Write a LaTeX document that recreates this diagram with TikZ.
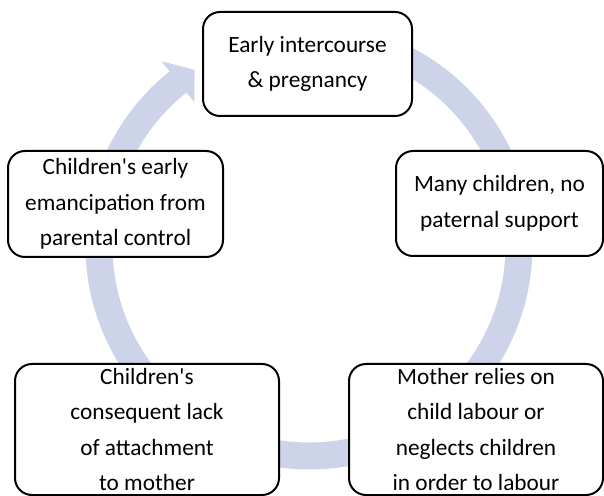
\documentclass[tikz,border=0pt]{standalone}
\definecolor{cycleblue}{RGB}{205, 212, 234}
\usepackage{tikz}
\usepackage{xcolor}
\usepackage{fontspec}
\setmainfont{Carlito}
\usetikzlibrary{positioning, calc}

\tikzset{
    stagebox/.style={draw=black, line width=2pt, fill=white, rounded corners=17pt,
                     align=center, inner sep=0pt, font=\fontsize{23.3}{35.5}\selectfont}
}

\begin{document}
\begin{tikzpicture}[x=1pt, y=1pt]
                    \useasboundingbox (0,0) rectangle (604,495);
                    \clip (0,0) rectangle (604,495);
                    % ring arrow behind the stages
                    \begin{scope}[shift={(309,249)}]
                        \fill[cycleblue] (85:223.5pt) arc[start angle=85, end angle=-231.4, radius=223.5pt]
                            -- (128.6:236.5pt) -- (123:210pt) -- (128.6:184pt) -- (128.6:196.5pt)
                            arc[start angle=-231.4, end angle=85, radius=196.5pt] -- cycle;
                    \end{scope}
                    \node[stagebox, minimum width=209, minimum height=104] (early) at (307.5, 431) {Early intercourse\\ \& pregnancy};
                    \node[stagebox, minimum width=207, minimum height=105] (many) at (499.5, 291.5) {Many children, no\\ paternal support};
                    \node[stagebox, minimum width=254, minimum height=131] (mother) at (476, 65.5) {Mother relies on\\ child labour or\\ neglects children\\ in order to labour};
                    \node[stagebox, minimum width=264, minimum height=131] (lack) at (147, 65.5) {Children\textquotesingle s\\ consequent lack\\ of attachment\\ to mother};
                    \node[stagebox, minimum width=215, minimum height=106] (emancip) at (115.5, 291) {Children\textquotesingle s early\\ emancipation from\\ parental control};
                \end{tikzpicture}
\end{document}
